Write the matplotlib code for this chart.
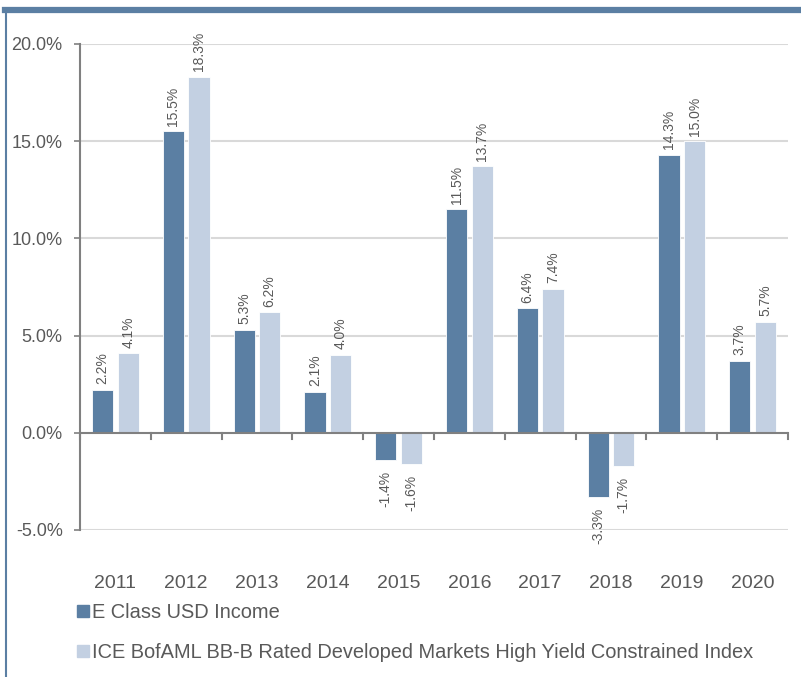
import numpy as np
import matplotlib
matplotlib.use("Agg")
import matplotlib.pyplot as plt
from matplotlib.lines import Line2D

years = ["2011", "2012", "2013", "2014", "2015", "2016", "2017", "2018", "2019", "2020"]
fund = [2.2, 15.5, 5.3, 2.1, -1.4, 11.5, 6.4, -3.3, 14.3, 3.7]
index = [4.1, 18.3, 6.2, 4.0, -1.6, 13.7, 7.4, -1.7, 15.0, 5.7]
fund_name = "E Class USD Income"
index_name = "ICE BofAML BB-B Rated Developed Markets High Yield Constrained Index"

dark = "#5b7fa3"
light = "#c3d0e2"
txt = "#595959"
plt.rcParams['font.family'] = ['Liberation Sans', 'DejaVu Sans']

W, H = 801, 677
fig = plt.figure(figsize=(W / 100, H / 100), dpi=100)
ax = fig.add_axes([80 / W, (H - 530) / H, (788 - 80) / W, (530 - 44) / H])

x = np.arange(len(years))
bw = 0.30
off = 0.18
b1 = ax.bar(x - off, fund, bw, color=dark, edgecolor="white", linewidth=0.6, zorder=3)
b2 = ax.bar(x + off, index, bw, color=light, edgecolor="white", linewidth=0.6, zorder=3)

for bars, vals in ((b1, fund), (b2, index)):
    for r, v in zip(bars, vals):
        cx = r.get_x() + r.get_width() / 2
        if v >= 0:
            ax.annotate(f"{v:.1f}%", (cx, v), xytext=(0, 4), textcoords="offset points",
                        rotation=90, ha="center", va="bottom", fontsize=10, color=txt,
                        annotation_clip=False)
        else:
            ax.annotate(f"{v:.1f}%", (cx, v), xytext=(0, -8), textcoords="offset points",
                        rotation=90, ha="center", va="top", fontsize=10, color=txt,
                        annotation_clip=False)

ax.set_xlim(-0.5, len(years) - 0.5)
ax.set_ylim(-5, 20)
ax.set_yticks(np.arange(-5, 21, 5))
ax.set_yticklabels([f"{v:.1f}%" for v in np.arange(-5, 21, 5)])
ax.tick_params(axis="y", length=4.5, width=1.2, color="#808080", labelsize=13,
               labelcolor=txt, pad=8)
for v in [-5, 5, 10, 15, 20]:
    ax.axhline(v, color="#d9d9d9", lw=1.5, zorder=1)

for s in ["top", "right", "bottom"]:
    ax.spines[s].set_visible(False)
ax.spines["left"].set_color("#808080")
ax.spines["left"].set_linewidth(1.5)

# zero axis with boundary ticks
ax.axhline(0, color="#808080", lw=1.5, zorder=4)
ax.set_xticks([])
for b in np.arange(-0.5, len(years), 1.0):
    ax.plot([b, b], [0, -0.3], color="#808080", lw=1.5, zorder=4, clip_on=False)

for xi, y in zip(x, years):
    ax.text(xi, -(583 - 530) / (530 - 44), y, transform=ax.get_xaxis_transform(),
            ha="center", va="center", fontsize=14, color=txt)

handles = [Line2D([], [], marker="s", linestyle="none", markersize=8, color=dark),
           Line2D([], [], marker="s", linestyle="none", markersize=8, color=light)]
fig.legend(handles, [fund_name, index_name], loc="upper left",
           bbox_to_anchor=(77 / W, 1 - 603 / H), frameon=False, fontsize=14.4,
           handlelength=0.6, handletextpad=0.15, labelspacing=1.05, labelcolor=txt,
           borderaxespad=0, borderpad=0)

# frame lines
fig.add_artist(Line2D([5 / W, 1], [1 - 10 / H, 1 - 10 / H], color=dark, lw=4.5))
fig.add_artist(Line2D([6 / W, 6 / W], [0, 1 - 10 / H], color=dark, lw=1.5))

fig.savefig("out.png", dpi=100)
